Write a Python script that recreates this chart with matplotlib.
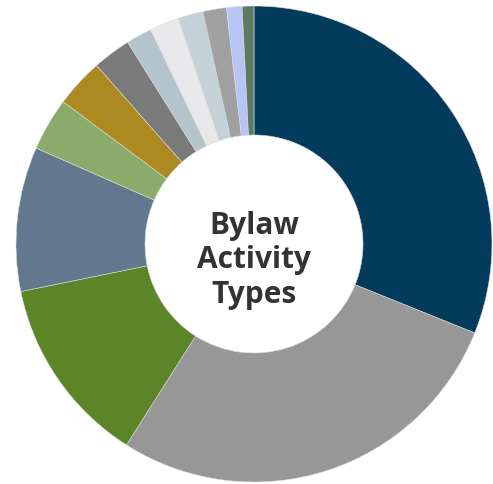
import matplotlib.pyplot as plt

# Share of bylaw activity types (percent), clockwise from 12 o'clock
values = [31.1, 27.9, 12.8, 9.8, 3.6, 3.3, 2.6, 1.75, 2.0, 1.7, 1.6, 1.05, 0.8]
colours = [
    "#023b5b", "#979797", "#5b8527", "#62788f", "#8aab6a", "#ad8922",
    "#7a7a7a", "#b4c4cc", "#e8e8ea", "#c4d1d8", "#a0a0a0", "#b6c5f5", "#5a7a64",
]
centre_text = "Bylaw\nActivity\nTypes"

fig = plt.figure(figsize=(4.93, 4.85), dpi=100)
R = 238
ax = fig.add_axes([(254 - R) / 493, (240 - R) / 485, 2 * R / 493, 2 * R / 485])

ax.pie(
    values,
    colors=colours,
    startangle=90,
    counterclock=False,
    radius=1.0,
    wedgeprops=dict(width=1 - 109 / R, edgecolor="#dddddd", linewidth=0.4),
)
ax.set_xlim(-1, 1)
ax.set_ylim(-1, 1)
ax.set_aspect("auto")
ax.axis("off")

ax.text(0, -0.065, centre_text, ha="center", va="center", fontsize=21.5,
        fontweight="bold", family="Open Sans", color="#333333",
        linespacing=1.2)

fig.savefig("out.png", dpi=100)
